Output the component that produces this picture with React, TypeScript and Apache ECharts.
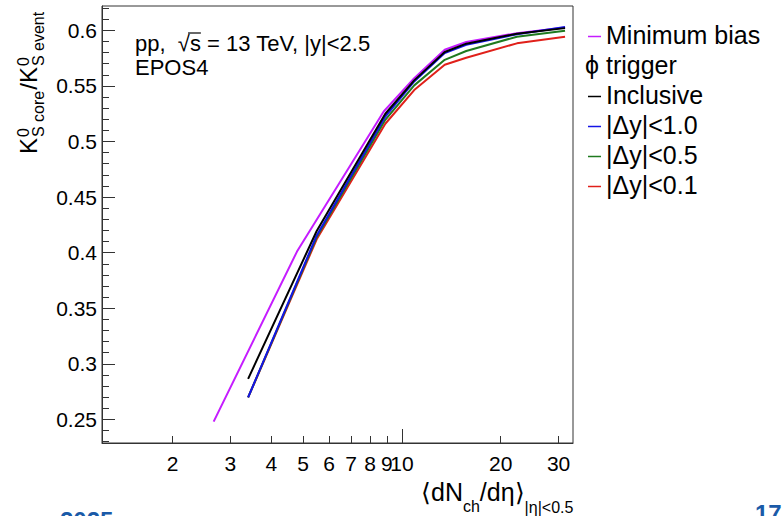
import React, { useEffect, useRef } from "react";
import * as echarts from "echarts";

// ---- data ----
const xMinBias = [2.67, 4.79, 8.8, 10.9, 13.5, 15.7, 22.4, 31.4];
const yMinBias = [0.248, 0.401, 0.527, 0.557, 0.5825, 0.5895, 0.5975, 0.6025];

const xTrig = [3.4, 5.5, 8.9, 10.9, 13.5, 15.7, 22.4, 31.4];
const yInclusive = [0.2865, 0.4195, 0.525, 0.555, 0.5805, 0.588, 0.597, 0.602];
const yDy10 = [0.2698, 0.4155, 0.5225, 0.554, 0.5795, 0.587, 0.5965, 0.603];
const yDy05 = [0.2698, 0.414, 0.5195, 0.5505, 0.5735, 0.5814, 0.5943, 0.5997];
const yDy01 = [0.2698, 0.412, 0.516, 0.5463, 0.569, 0.5754, 0.5883, 0.5943];

const xTickValues = [2, 3, 4, 5, 6, 7, 8, 9, 10, 20, 30];
const xLongTicks = [10];
const yTickValues = [0.25, 0.3, 0.35, 0.4, 0.45, 0.5, 0.55, 0.6];
const yMinorTicks = [
  0.23, 0.24, 0.25, 0.26, 0.27, 0.28, 0.29, 0.3, 0.31, 0.32, 0.33, 0.34, 0.35, 0.36, 0.37, 0.38,
  0.39, 0.4, 0.41, 0.42, 0.43, 0.44, 0.45, 0.46, 0.47, 0.48, 0.49, 0.5, 0.51, 0.52, 0.53, 0.54,
  0.55, 0.56, 0.57, 0.58, 0.59, 0.6, 0.61, 0.62,
];
const xRange = [1.22, 33.2];
const yRange = [0.2288, 0.6219];

const legendLabels = ["Minimum bias", "ϕ trigger", "Inclusive", "|Δy|<1.0", "|Δy|<0.5", "|Δy|<0.1"];
const legendColors = ["#c51cff", null, "#000000", "#1414e6", "#1f7a1f", "#e0201a"];

export default function App() {
  const ref = useRef<HTMLDivElement>(null);
  useEffect(() => {
    const el = ref.current!;
    const chart = echarts.init(el, null, { renderer: "svg" });
    const FONT = '"Liberation Sans", Arial, Helvetica, sans-serif';
    const ctx = document.createElement("canvas").getContext("2d")!;
    const tw = (t: string, s: number) => {
      ctx.font = `${s}px ${FONT}`;
      return ctx.measureText(t).width;
    };
    const mid = (baseline: number, size: number) => baseline - 0.3465 * size;

    const mkLine = (name: string, xs: number[], ys: number[], color: string, z: number) => ({
      type: "line",
      name,
      data: xs.map((x, i) => [x, ys[i]]),
      showSymbol: false,
      symbol: "none",
      silent: true,
      xAxisIndex: 0,
      yAxisIndex: 0,
      z,
      lineStyle: { color, width: 2 },
      itemStyle: { color },
    });

    // ---- y axis title (rotated, with stacked super/subscripts) ----
    const M = 24;
    const S = 16;
    const supBase = -8;
    const subBase = 7;
    const yt: any[] = [];
    let lx = 0;
    const addT = (text: string, size: number, base: number, x: number) =>
      yt.push({
        type: "text",
        x,
        y: mid(base, size),
        style: { text, fontSize: size, fontFamily: FONT, fill: "#000", align: "left", verticalAlign: "middle" },
      });
    addT("K", M, 0, lx);
    lx += tw("K", M) + 1;
    addT("0", S, supBase, lx);
    addT("S core", S, subBase, lx);
    lx += tw("S core", S) + 1;
    addT("/", M, 0, lx);
    lx += tw("/", M);
    addT("K", M, 0, lx);
    lx += tw("K", M) + 1;
    addT("0", S, supBase, lx);
    addT("S event", S, subBase, lx);

    // ---- legend ----
    const legendRows = [35, 65, 95, 125, 155, 185];
    const LF = 25;
    const legendEls: any[] = [];
    legendLabels.forEach((lab, i) => {
      const c = legendColors[i];
      const y = legendRows[i];
      if (c) {
        legendEls.push({
          type: "line",
          shape: { x1: 588, y1: y + 1.5, x2: 601, y2: y + 1.5 },
          style: { stroke: c, lineWidth: 1.5 },
        });
      }
      legendEls.push({
        type: "text",
        x: c ? 606 : 585,
        y,
        style: { text: lab, fontSize: LF, fontFamily: FONT, fill: "#000", align: "left", verticalAlign: "middle" },
      });
    });

    // ---- caption ----
    const TF = 22;
    const capX = 135;
    const capText = "pp,  √s = 13 TeV, |y|<2.5";
    const sqrtStart = capX + tw("pp,  ", TF);
    const sEnd = capX + tw("pp,  √s", TF);

    const option: any = {
      animation: false,
      backgroundColor: "#ffffff",
      textStyle: { fontFamily: FONT },
      grid: {
        left: 102,
        right: 210,
        top: 6,
        bottom: 73,
        show: true,
        borderColor: "#333",
        borderWidth: 1,
        backgroundColor: "transparent",
        outerBoundsMode: "none",
      },
      xAxis: [
        {
          type: "log",
          logBase: 10,
          min: xRange[0],
          max: xRange[1],
          axisLine: { show: true, onZero: false, lineStyle: { color: "#333", width: 1 } },
          axisTick: { show: true, inside: true, length: 7, customValues: xTickValues, lineStyle: { color: "#333" } },
          axisLabel: { show: true, customValues: xTickValues, fontSize: 21, color: "#000", fontFamily: FONT, margin: 10 },
          splitLine: { show: false },
          minorTick: { show: false },
        },
        {
          type: "log",
          logBase: 10,
          min: xRange[0],
          max: xRange[1],
          position: "bottom",
          offset: 0,
          axisLine: { show: false, onZero: false },
          axisTick: { show: true, inside: true, length: 14, customValues: xLongTicks, lineStyle: { color: "#333" } },
          axisLabel: { show: false },
          splitLine: { show: false },
        },
      ],
      yAxis: [
        {
          type: "value",
          min: yRange[0],
          max: yRange[1],
          axisLine: { show: true, onZero: false, lineStyle: { color: "#333", width: 1 } },
          axisTick: { show: true, inside: true, length: 13, customValues: yTickValues, lineStyle: { color: "#333" } },
          axisLabel: { show: true, customValues: yTickValues, fontSize: 21, color: "#000", fontFamily: FONT, margin: 5 },
          splitLine: { show: false },
        },
        {
          type: "value",
          min: yRange[0],
          max: yRange[1],
          position: "left",
          offset: 0,
          axisLine: { show: false, onZero: false },
          axisTick: { show: true, inside: true, length: 7, customValues: yMinorTicks, lineStyle: { color: "#333" } },
          axisLabel: { show: false },
          splitLine: { show: false },
        },
      ],
      series: [
        mkLine("Minimum bias", xMinBias, yMinBias, legendColors[0]!, 2),
        mkLine("|Δy|<0.1", xTrig, yDy01, legendColors[5]!, 3),
        mkLine("|Δy|<0.5", xTrig, yDy05, legendColors[4]!, 4),
        mkLine("|Δy|<1.0", xTrig, yDy10, legendColors[3]!, 5),
        mkLine("Inclusive", xTrig, yInclusive, legendColors[2]!, 6),
      ],
      graphic: [
        {
          type: "text",
          x: capX,
          y: mid(51, TF),
          style: { text: capText, fontSize: TF, fontFamily: FONT, fill: "#000", align: "left", verticalAlign: "middle" },
        },
        {
          type: "line",
          shape: { x1: sqrtStart + tw("√", TF) * 0.85, y1: 33, x2: sEnd, y2: 33 },
          style: { stroke: "#000", lineWidth: 1.2 },
        },
        {
          type: "text",
          x: capX,
          y: mid(75, TF),
          style: { text: "EPOS4", fontSize: TF, fontFamily: FONT, fill: "#000", align: "left", verticalAlign: "middle" },
        },
        {
          type: "group",
          x: 37,
          y: 154,
          rotation: Math.PI / 2,
          children: yt,
        },
        {
          type: "text",
          x: 421,
          y: 479,
          style: {
            text: "{m|⟨dN}{s|ch}{m|/dη⟩}{t||η|<0.5}",
            fontFamily: FONT,
            fill: "#000",
            align: "left",
            verticalAlign: "top",
            rich: {
              m: { fontSize: 25, lineHeight: 25, verticalAlign: "top", fontFamily: FONT, fill: "#000" },
              s: { fontSize: 16, lineHeight: 16, verticalAlign: "top", padding: [19, 0, 0, 0], fontFamily: FONT, fill: "#000" },
              t: { fontSize: 16, lineHeight: 16, verticalAlign: "top", padding: [20.5, 0, 0, 0], fontFamily: FONT, fill: "#000" },
            },
          },
        },
        ...legendEls,
        {
          type: "text",
          x: 60,
          y: 520.4,
          style: { text: "2025", fontSize: 24, fontWeight: "bold", fontFamily: FONT, fill: "#1a5aa8", align: "left", verticalAlign: "middle" },
        },
        {
          type: "text",
          x: 755,
          y: 513.9,
          style: { text: "17", fontSize: 24, fontWeight: "bold", fontFamily: FONT, fill: "#1a5aa8", align: "left", verticalAlign: "middle" },
        },
      ],
    };
    chart.setOption(option);
    return () => chart.dispose();
  }, []);
  return <div ref={ref} style={{ position: "fixed", left: 0, top: 0, width: 783, height: 516 }} />;
}
